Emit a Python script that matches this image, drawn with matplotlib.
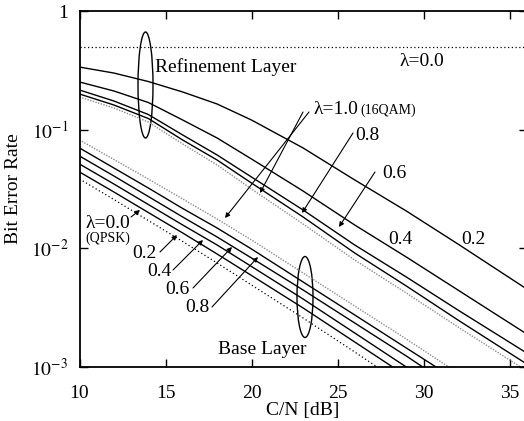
import matplotlib
matplotlib.use("Agg")
import matplotlib.pyplot as plt
from matplotlib.patches import Ellipse
from matplotlib.ticker import FixedLocator, NullLocator

# ---------------- data ----------------
cn_ref = [10, 12, 14, 16, 18, 20, 23, 26, 29, 32, 36]
ref_l02 = [0.337, 0.300, 0.2545, 0.2077, 0.1646, 0.1206, 0.0701, 0.0377, 0.02064, 0.01088, 0.004544]
ref_l04 = [0.2522, 0.2118, 0.1694, 0.1206, 0.0851, 0.0566, 0.0304, 0.01573, 0.00845, 0.004455, 0.001898]
ref_l06 = [0.2159, 0.1744, 0.1342, 0.0902, 0.0612, 0.0399, 0.02104, 0.01067, 0.005735, 0.003022, 0.001312]
ref_l08 = [0.1998, 0.1614, 0.1242, 0.0818, 0.0555, 0.0355, 0.01837, 0.009135, 0.004817, 0.00249, 0.00106]
ref_l10 = [0.1885, 0.1523, 0.1160, 0.0757, 0.0504, 0.0316, 0.01603, 0.007975, 0.004205, 0.002174, 0.000926]
ref_l00_cn = [10, 36]
ref_l00 = [0.5, 0.5]

cn_b00 = [10, 12, 14, 16, 18, 20, 23, 26, 28]
base_l00 = [0.0384, 0.0258, 0.01716, 0.01142, 0.007523, 0.004911, 0.002588, 0.001338, 0.000856]
cn_b02 = [10, 12, 14, 16, 18, 20, 23, 26, 29]
base_l02 = [0.0440, 0.02984, 0.02004, 0.01347, 0.00896, 0.005904, 0.003143, 0.001625, 0.00084]
cn_b04 = [10, 12, 14, 16, 18, 20, 23, 26, 29, 30]
base_l04 = [0.05136, 0.03484, 0.02341, 0.01573, 0.01067, 0.007031, 0.003741, 0.001935, 0.001, 0.000808]
cn_b06 = [10, 12, 14, 16, 18, 20, 23, 26, 29, 31]
base_l06 = [0.0600, 0.0407, 0.02734, 0.01837, 0.01246, 0.008292, 0.004455, 0.002349, 0.001238, 0.000792]
cn_b08 = [10, 12, 14, 16, 18, 20, 23, 26, 29, 31]
base_l08 = [0.0701, 0.04753, 0.03225, 0.02167, 0.01484, 0.009872, 0.005205, 0.002745, 0.001446, 0.000944]
cn_b10 = [10, 12, 14, 16, 18, 20, 23, 26, 29, 32]
base_l10 = [0.0818, 0.05606, 0.0384, 0.02605, 0.01767, 0.011756, 0.006198, 0.003266, 0.001722, 0.00089]

xticks = [10, 15, 20, 25, 30, 35]
yticks = [1e-3, 1e-2, 1e-1, 1]
ytick_labels = [r"$10^{-3}$", r"$10^{-2}$", r"$10^{-1}$", "1"]

# ---------------- style ----------------
plt.rcParams["font.family"] = ["Liberation Serif", "DejaVu Serif"]
plt.rcParams["mathtext.fontset"] = "stix"

W, H = 524, 421
fig = plt.figure(figsize=(W / 100, H / 100), dpi=100)
x0, x1, ytop, ybot = 79.5, 526.7, 11, 367
ax = fig.add_axes([x0 / W, (H - ybot) / H, (x1 - x0) / W, (ybot - ytop) / H])
ax.set_yscale("log")
ax.set_xlim(10, 36)
ax.set_ylim(1e-3, 1)

solid = dict(color="black", lw=1.0)
dotk = dict(color="black", lw=0.9, ls=(0, (1, 2)))
dotg = dict(color="0.55", lw=1.0, ls=(0, (1, 1)))

ax.plot(ref_l00_cn, ref_l00, **dotk)
ax.plot(cn_ref, ref_l02, **solid)
ax.plot(cn_ref, ref_l04, **solid)
ax.plot(cn_ref, ref_l06, **solid)
ax.plot(cn_ref, ref_l08, **solid)
ax.plot(cn_ref, ref_l10, **dotg)

ax.plot(cn_b00, base_l00, **dotk)
ax.plot(cn_b02, base_l02, **solid)
ax.plot(cn_b04, base_l04, **solid)
ax.plot(cn_b06, base_l06, **solid)
ax.plot(cn_b08, base_l08, **solid)
ax.plot(cn_b10, base_l10, **dotg)

ax.xaxis.set_major_locator(FixedLocator(xticks))
ax.set_xticklabels([str(v) for v in xticks])
ax.yaxis.set_major_locator(FixedLocator(yticks))
ax.set_yticklabels(ytick_labels)
ax.yaxis.set_minor_locator(NullLocator())
ax.tick_params(direction="in", top=True, right=True, length=6, width=1.0,
               labelsize=14)
ax.tick_params(axis="x", pad=13)
ax.tick_params(axis="y", pad=8)
for s in ax.spines.values():
    s.set_linewidth(1.3)
ax.set_xlabel("C/N [dB]", fontsize=14, labelpad=0)
ax.set_ylabel("Bit Error Rate", fontsize=14, labelpad=6)


def P(px, py):
    """reference pixel -> axes fraction"""
    return ((px - x0) / (x1 - x0), (ybot - py) / (ybot - ytop))


def txt(px, py, s, size=14, ha="left"):
    ax.text(*P(px, py), s, transform=ax.transAxes, fontsize=size,
            ha=ha, va="center")


def arrow(p_from, p_to):
    ax.annotate("", xy=P(*p_to), xycoords="axes fraction",
                xytext=P(*p_from), textcoords="axes fraction",
                arrowprops=dict(arrowstyle="-|>", lw=0.8, color="black",
                                mutation_scale=7, shrinkA=0, shrinkB=0))


txt(155, 67, "Refinement Layer")
txt(400, 61, "λ=0.0")
txt(313, 109, "λ=1.0")
txt(360, 110, "(16QAM)", size=10)
txt(355, 135, "0.8")
txt(382, 173, "0.6")
txt(388, 239, "0.4")
txt(461, 239, "0.2")
txt(85, 224, "λ=0.0")
txt(85, 238, "(QPSK)", size=10)
txt(132, 253, "0.2")
txt(147, 272, "0.4")
txt(165, 290, "0.6")
txt(185, 308, "0.8")
txt(218, 349, "Base Layer")

arrow((303, 112), (260, 193))
arrow((309, 112), (225, 218))
arrow((353, 133), (302, 213))
arrow((375, 172), (339, 227))
arrow((131, 217), (140, 210))
arrow((160, 252), (177, 235))
arrow((173, 270), (203, 240))
arrow((193, 288), (232, 247))
arrow((212, 307), (258, 257))

for (cx, cy, w, h) in [(145.5, 85, 15, 106), (305, 297, 16, 81)]:
    fx, fy = P(cx, cy)
    ax.add_patch(Ellipse((fx, fy), w / (x1 - x0), h / (ybot - ytop),
                         transform=ax.transAxes, fill=False, lw=1.0,
                         color="black"))

fig.savefig("out.png", dpi=100)
